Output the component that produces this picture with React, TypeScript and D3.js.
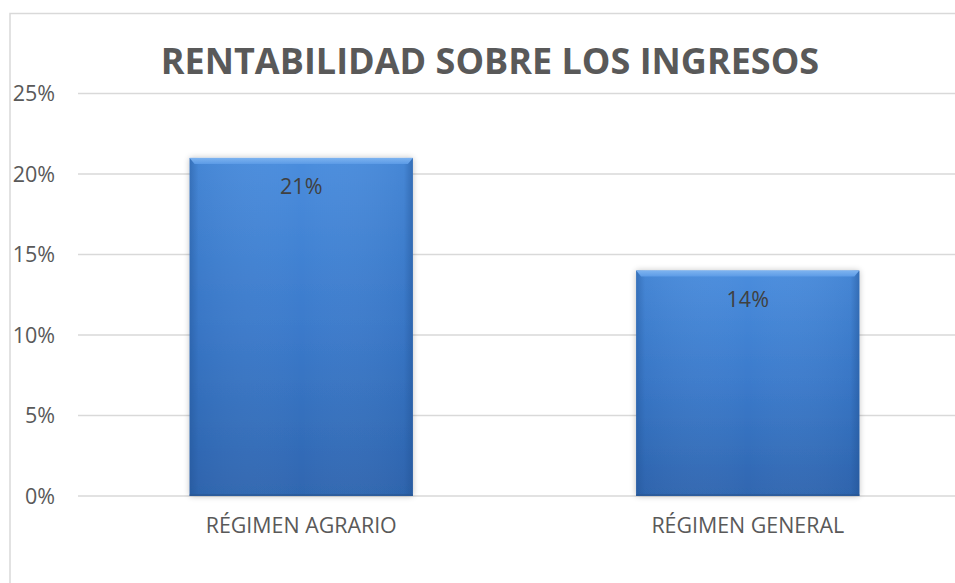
import React from "react";
import * as d3 from "d3";

const title = "RENTABILIDAD SOBRE LOS INGRESOS";
const categories = ["RÉGIMEN AGRARIO", "RÉGIMEN GENERAL"];
const values = [0.21, 0.14];
const yTicks = [0, 0.05, 0.1, 0.15, 0.2, 0.25];

const W = 955;
const H = 583;
const FONT = "'Open Sans', 'DejaVu Sans', sans-serif";

export default function App() {
  const y = d3.scaleLinear().domain([0, 0.25]).range([496, 93.5]);
  const x = d3.scaleBand<string>().domain(categories).range([78, 971]).paddingInner(0.5).paddingOuter(0.25);
  const fmt = d3.format(".0%");
  const bw = x.bandwidth();

  return (
    <svg width={W} height={H} style={{ position: "absolute", left: 0, top: 0, background: "#fff" }} fontFamily={FONT}>
      <defs>
        <linearGradient id="barV" x1="0" y1="0" x2="0" y2="1">
          <stop offset="0" stopColor="#4a8ddd" />
          <stop offset="0.5" stopColor="#3b7acb" />
          <stop offset="1" stopColor="#2f66b0" />
        </linearGradient>
        <linearGradient id="barH" x1="0" y1="0" x2="1" y2="0">
          <stop offset="0" stopColor="#1f4f8f" stopOpacity="0.45" />
          <stop offset="0.04" stopColor="#1f4f8f" stopOpacity="0.1" />
          <stop offset="0.5" stopColor="#ffffff" stopOpacity="0" />
          <stop offset="0.96" stopColor="#1f4f8f" stopOpacity="0.1" />
          <stop offset="1" stopColor="#1f4f8f" stopOpacity="0.5" />
        </linearGradient>
        <linearGradient id="bevel" x1="0" y1="0" x2="0" y2="1">
          <stop offset="0" stopColor="#7db3f0" />
          <stop offset="1" stopColor="#5c9be6" />
        </linearGradient>
        <filter id="shadow" x="-10%" y="-10%" width="120%" height="120%">
          <feGaussianBlur in="SourceAlpha" stdDeviation="3" />
          <feComponentTransfer>
            <feFuncA type="linear" slope="0.25" />
          </feComponentTransfer>
          <feMerge>
            <feMergeNode />
            <feMergeNode in="SourceGraphic" />
          </feMerge>
        </filter>
      </defs>

      {/* chart frame */}
      <rect x={10} y={13.5} width={W + 20} height={H + 20} fill="none" stroke="#d9d9d9" strokeWidth={1.5} />

      {/* title */}
      <text x={490} y={74} textAnchor="middle" fontSize={36} fontWeight="bold" fill="#595959">
        {title}
      </text>

      {/* gridlines and tick labels */}
      {yTicks.map((t) => (
        <g key={t}>
          <line x1={78} x2={W} y1={y(t)} y2={y(t)} stroke="#d9d9d9" strokeWidth={1.5} />
          <text x={55} y={y(t)} dy="0.36em" textAnchor="end" fontSize={21.5} fill="#595959">
            {fmt(t)}
          </text>
        </g>
      ))}

      {/* bars */}
      {categories.map((c, i) => {
        const bx = x(c)!;
        const by = y(values[i]);
        const bh = y(0) - by;
        return (
          <g key={c}>
            <rect x={bx} y={by} width={bw} height={bh} fill="url(#barV)" filter="url(#shadow)" />
            <rect x={bx} y={by} width={bw} height={bh} fill="url(#barH)" />
            <path
              d={`M${bx},${by} L${bx + bw},${by} L${bx + bw - 5},${by + 6} L${bx + 5},${by + 6} Z`}
              fill="url(#bevel)"
            />
            <line x1={bx} x2={bx + bw} y1={y(0) - 1} y2={y(0) - 1} stroke="#2a5690" strokeWidth={2} opacity={0.6} />
            <text x={bx + bw / 2} y={by + 36} textAnchor="middle" fontSize={21.5} fill="#404040">
              {fmt(values[i])}
            </text>
            <text x={bx + bw / 2} y={533} textAnchor="middle" fontSize={21.4} fill="#595959">
              {c}
            </text>
          </g>
        );
      })}
    </svg>
  );
}
